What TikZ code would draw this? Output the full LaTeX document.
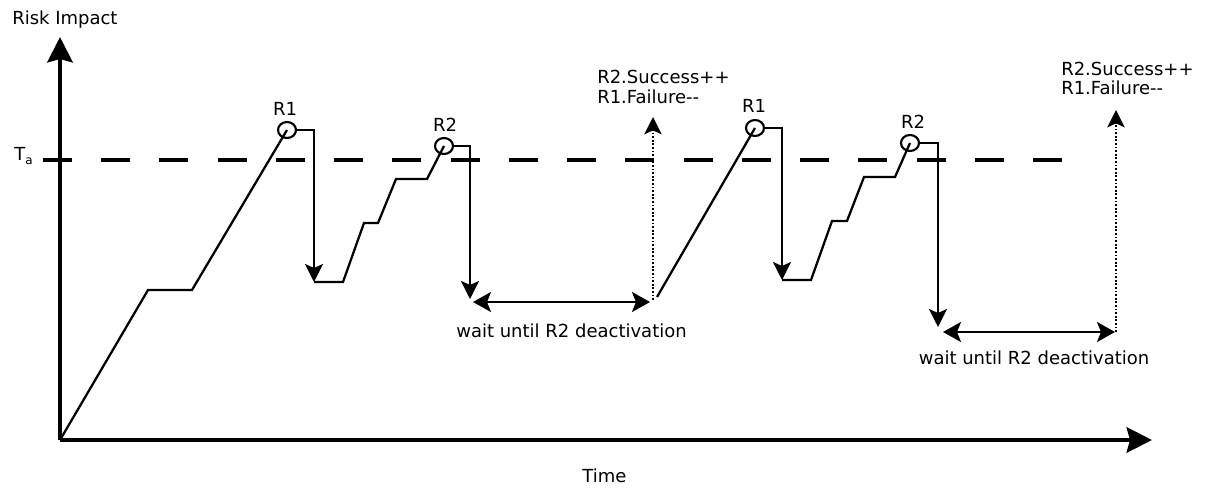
\documentclass[tikz,border=0pt]{standalone}
\usepackage{fontspec}
\setmainfont{DejaVu Sans}
\usetikzlibrary{arrows.meta,shapes.geometric}
\begin{document}
\begin{tikzpicture}[x=0.75pt,y=-0.75pt,
  txt/.style={font=\fontsize{13.5}{15}\selectfont, inner sep=0pt},
  axis/.style={line width=3.2pt, -{Stealth[length=19pt,width=19pt,inset=2.5pt]}},
  curve/.style={line width=1.7pt, line join=miter},
  dn/.style={curve, -{Stealth[length=13.5pt,width=13.5pt,inset=3pt]}},
  both/.style={curve, {Stealth[length=13.5pt,width=15pt,inset=3pt]}-{Stealth[length=13.5pt,width=15pt,inset=3pt]}},
  dots/.style={line width=1.8pt, dash pattern=on 1.4pt off 1.3pt, -{Stealth[length=13pt,width=13pt,inset=3pt]}},
  ring/.style={ellipse, draw, line width=1.6pt, inner sep=0pt, minimum width=13.5pt, minimum height=12pt},
  thr/.style={line width=2.6pt, dash pattern=on 21.75pt off 21.93pt}
]
\useasboundingbox (0,0) rectangle (1206,489);

% axes
\coordinate (O) at (60,440);
\coordinate (Ytop) at (60,37);
\coordinate (Xend) at (1152,440);
\draw[axis] (O) -- (Ytop);
\draw[axis] (O) -- (Xend);
\node[txt, anchor=base west] (ylab) at (12,24) {Risk Impact};
\node[txt, anchor=base] (xlab) at (604.5,482) {Time};

% threshold
\node[txt, anchor=base west] (ta) at (14,160) {T\raisebox{-0.5ex}{\fontsize{9}{10}\selectfont a}};
\coordinate (t0) at (43,160);
\coordinate (t1) at (1062,160);
\draw[thr] (t0) -- (t1);

% rings and labels
\node[ring] (r1a) at (287,130) {};
\node[ring] (r2a) at (444,146) {};
\node[ring] (r1b) at (755,128) {};
\node[ring] (r2b) at (910,143) {};
\node[txt, anchor=base] (l1a) at (285,115) {R1};
\node[txt, anchor=base] (l2a) at (445,131) {R2};
\node[txt, anchor=base] (l1b) at (754,112) {R1};
\node[txt, anchor=base] (l2b) at (913,128) {R2};

% first cycle
\coordinate (a1) at (148,290);
\coordinate (a2) at (192,290);
\draw[curve] (O) -- (a1) -- (a2) -- (r1a.center);
\coordinate (a3) at (314,130);
\coordinate (a4) at (314,282);
\draw[dn] (r1a.east) -- (a3) -- (a4);
\coordinate (b1) at (343,282);
\coordinate (b2) at (364,223);
\coordinate (b3) at (378,223);
\coordinate (b4) at (396,179);
\coordinate (b5) at (427,179);
\draw[curve] (a4) -- (b1) -- (b2) -- (b3) -- (b4) -- (b5) -- (r2a.center);
\coordinate (c1) at (470,146);
\coordinate (c2) at (470,299);
\draw[dn] (r2a.east) -- (c1) -- (c2);
\coordinate (w1) at (473,302);
\coordinate (w2) at (650,302);
\draw[both] (w1) -- (w2);
\node[txt, anchor=base] (wt1) at (571.5,337) {wait until R2 deactivation};
\coordinate (d1) at (653,300);
\coordinate (d2) at (653,117);
\draw[dots] (d1) -- (d2);
\node[txt, anchor=base west] (s1a) at (597,83) {R2.Success++};
\node[txt, anchor=base west] (s1b) at (597,103) {R1.Failure-{}-};

% second cycle
\coordinate (e1) at (657,297);
\draw[curve] (e1) -- (r1b.center);
\coordinate (e2) at (782,128);
\coordinate (e3) at (782,280);
\draw[dn] (r1b.east) -- (e2) -- (e3);
\coordinate (f1) at (811,280);
\coordinate (f2) at (832,221);
\coordinate (f3) at (847,221);
\coordinate (f4) at (864,177);
\coordinate (f5) at (895,177);
\draw[curve] (e3) -- (f1) -- (f2) -- (f3) -- (f4) -- (f5) -- (r2b.center);
\coordinate (g1) at (938,143);
\coordinate (g2) at (938,327);
\draw[dn] (r2b.east) -- (g1) -- (g2);
\coordinate (v1) at (943,332);
\coordinate (v2) at (1115,332);
\draw[both] (v1) -- (v2);
\node[txt, anchor=base] (wt2) at (1034,364) {wait until R2 deactivation};
\coordinate (h1) at (1116,332);
\coordinate (h2) at (1116,110);
\draw[dots] (h1) -- (h2);
\node[txt, anchor=base west] (s2a) at (1061,75) {R2.Success++};
\node[txt, anchor=base west] (s2b) at (1061,94) {R1.Failure-{}-};
\end{tikzpicture}
\end{document}
